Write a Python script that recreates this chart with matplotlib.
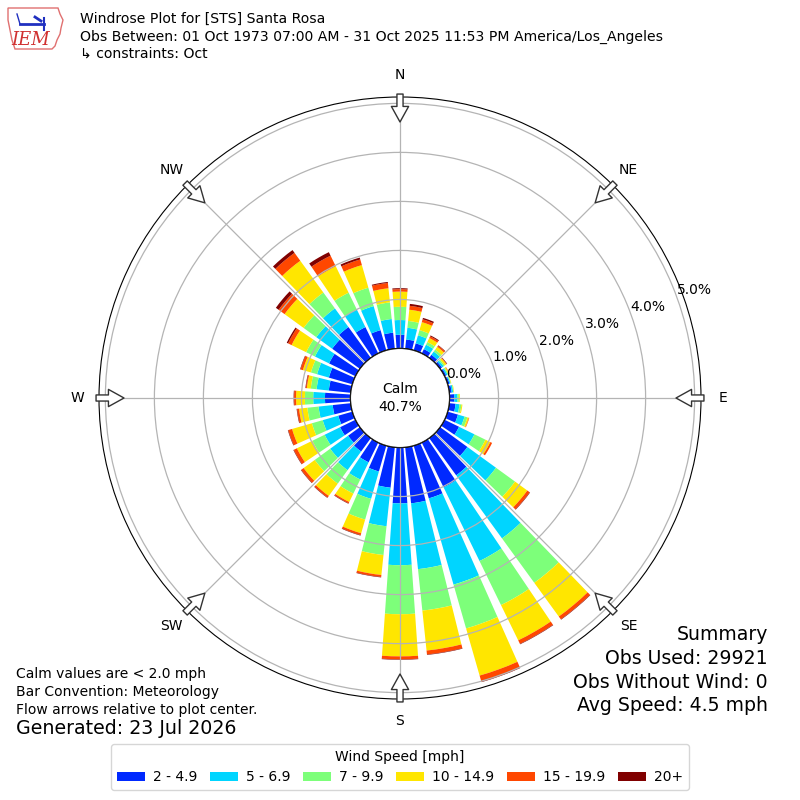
import numpy as np
import matplotlib
matplotlib.use('Agg')
from matplotlib import pyplot as plt
from matplotlib.patches import Patch, Circle, Polygon

# direction bins (deg, meteorological) and frequency [%] per speed bin
directions = np.arange(0, 360, 10)
bins = ['2 - 4.9', '5 - 6.9', '7 - 9.9', '10 - 14.9', '15 - 19.9', '20+']

f_2_5 = [0.28, 0.19, 0.15, 0.10, 0.08, 0.05, 0.04, 0.04, 0.05, 0.10, 0.13, 0.22,
         0.33, 0.69, 0.94, 1.02, 1.12, 1.15, 1.14, 0.83, 0.55, 0.45, 0.34, 0.30,
         0.35, 0.30, 0.37, 0.52, 0.45, 0.50, 0.60, 0.70, 0.78, 0.60, 0.43, 0.33]
f_5_7 = [0.30, 0.24, 0.17, 0.10, 0.08, 0.04, 0.03, 0.02, 0.03, 0.06, 0.08, 0.14,
         0.35, 0.72, 1.59, 1.67, 1.83, 1.35, 1.26, 0.79, 0.58, 0.39, 0.47, 0.45,
         0.35, 0.33, 0.29, 0.24, 0.25, 0.25, 0.32, 0.40, 0.47, 0.40, 0.51, 0.28]
f_7_10 = [0.27, 0.14, 0.11, 0.06, 0.05, 0.03, 0.02, 0.01, 0.01, 0.03, 0.04, 0.06,
          0.25, 0.48, 1.12, 1.00, 0.93, 0.85, 1.00, 0.59, 0.44, 0.32, 0.34, 0.39,
          0.28, 0.23, 0.23, 0.17, 0.12, 0.13, 0.20, 0.32, 0.40, 0.38, 0.39, 0.34]
f_10_15 = [0.31, 0.23, 0.17, 0.09, 0.07, 0.04, 0.02, 0.01, 0.01, 0.02, 0.02, 0.03,
           0.11, 0.31, 0.85, 0.80, 1.00, 0.82, 0.86, 0.41, 0.29, 0.19, 0.31, 0.28,
           0.35, 0.42, 0.17, 0.18, 0.08, 0.17, 0.33, 0.48, 0.80, 0.60, 0.48, 0.29]
f_15_20 = [0.05, 0.08, 0.06, 0.04, 0.03, 0.01, 0.01, 0.00, 0.00, 0.00, 0.00, 0.01,
           0.04, 0.06, 0.07, 0.08, 0.13, 0.08, 0.06, 0.04, 0.04, 0.03, 0.04, 0.06,
           0.07, 0.08, 0.04, 0.04, 0.02, 0.05, 0.08, 0.15, 0.20, 0.24, 0.12, 0.11]
f_20p = [0.02, 0.04, 0.03, 0.02, 0.01, 0.01, 0.00, 0.00, 0.00, 0.00, 0.00, 0.00,
         0.00, 0.01, 0.01, 0.01, 0.01, 0.01, 0.01, 0.01, 0.01, 0.01, 0.01, 0.01,
         0.01, 0.01, 0.01, 0.01, 0.01, 0.01, 0.03, 0.07, 0.07, 0.08, 0.04, 0.02]

calm_pct = 40.7
compass = ['N', 'NE', 'E', 'SE', 'S', 'SW', 'W', 'NW']
title_lines = ['Windrose Plot for [STS] Santa Rosa',
               'Obs Between: 01 Oct 1973 07:00 AM - 31 Oct 2025 11:53 PM America/Los_Angeles',
               '\u21b3 constraints: Oct']
summary = ['Summary', 'Obs Used: 29921', 'Obs Without Wind: 0', 'Avg Speed: 4.5 mph']

series = [f_2_5, f_5_7, f_7_10, f_10_15, f_15_20, f_20p]
colors = plt.cm.jet(np.linspace(1 / 6., 1, 6))

fig = plt.figure(figsize=(8, 8), dpi=100)
ax = fig.add_axes([99 / 800., 101 / 800., 602 / 800., 602 / 800.], projection='polar')
ax.set_theta_zero_location('N')
ax.set_theta_direction(-1)
ax.set_rorigin(-49.5 / 49.)
ax.set_ylim(0, 5.13)

theta = np.radians(directions)
bottom = np.zeros(len(directions))
for vals, c in zip(series, colors):
    vals = np.array(vals)
    ax.bar(theta, vals, width=np.radians(8), bottom=bottom, color=c, linewidth=0)
    bottom = bottom + vals

ax.set_xticks(np.radians(np.arange(0, 360, 45)))
ax.set_xticklabels([])
ax.set_yticks(range(6))
ax.set_yticklabels(['%.1f%%' % v for v in range(6)], fontsize=10)
ax.set_rlabel_position(70)
ax.grid(True, color='#b4b4b4', lw=0.9)
ax.spines['polar'].set_color('black')

# calm circle
ax.add_patch(Circle((0.5, 0.5), 49.5 / 602., transform=ax.transAxes,
                    facecolor='white', edgecolor='black', lw=1, zorder=5))
ax.text(0.5, 0.5, 'Calm\n%.1f%%' % calm_pct, transform=ax.transAxes,
        ha='center', va='center', fontsize=10, linespacing=1.3, zorder=6)

# flow arrows + compass labels
for i, lab in enumerate(compass):
    t = np.radians(i * 45)
    ax.annotate('', xy=(t, 4.62), xytext=(t, 5.19), annotation_clip=False,
                arrowprops=dict(arrowstyle='simple,head_length=0.56,head_width=0.62,tail_width=0.22',
                                fc='white', ec='#333333', lw=1, shrinkA=0, shrinkB=0,
                                mutation_scale=20), zorder=7)
    ax.text(t, 5.58, lab, ha='center', va='center', fontsize=10, clip_on=False)

for k, line in enumerate(title_lines):
    fig.text(80 / 800., 1 - (19 + 17.5 * k) / 800., line, fontsize=10.1, va='center')

notes = ['Calm values are < 2.0 mph', 'Bar Convention: Meteorology',
         'Flow arrows relative to plot center.']
for k, line in enumerate(notes):
    fig.text(16 / 800., 1 - (674 + 18 * k) / 800., line, fontsize=10, va='center')
fig.text(16 / 800., 1 - 729 / 800., 'Generated: 23 Jul 2026', fontsize=13.7, va='center')

for k, line in enumerate(summary):
    fig.text(768 / 800., 1 - (635 + 23.5 * k) / 800., line, fontsize=13.6, va='center', ha='right')

handles = [Patch(facecolor=c) for c in colors]
fig.legend(handles, bins, loc='lower center', bbox_to_anchor=(0.5, 10 / 800.), ncol=6,
           title='Wind Speed [mph]', fontsize=10, title_fontsize=10, borderaxespad=0,
           columnspacing=0.9, handletextpad=0.6)

# IEM logo (rough)
lax = fig.add_axes([0, 1 - 52 / 800., 68 / 800., 52 / 800.])
lax.set_xlim(0, 68)
lax.set_ylim(52, 0)
lax.axis('off')
iowa = [(8, 8), (58, 8), (60, 14), (63, 20), (61, 28), (60, 34), (57, 40), (55, 46),
        (52, 49), (15, 49), (12, 40), (10, 30), (8, 20)]
lax.add_patch(Polygon(iowa, closed=True, fill=False, ec='#e07070', lw=1))
lax.plot([20, 44], [24, 24], color='#2030c0', lw=2)
lax.plot([44, 44], [18, 30], color='#2030c0', lw=1.5)
lax.plot([20, 17], [24, 14], color='#2030c0', lw=1)
lax.plot([35, 41], [17, 21], color='#2030c0', lw=2)
lax.text(31, 40, 'IEM', color='#d03030', fontsize=13, family='serif', style='italic',
         ha='center', va='center')

fig.savefig('out.png', dpi=100)
